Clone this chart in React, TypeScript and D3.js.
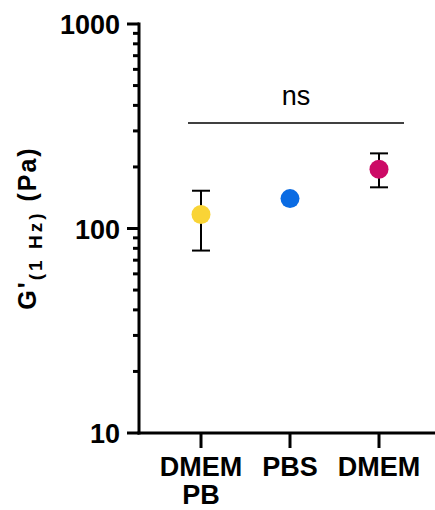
import React, { useEffect, useRef } from "react";
import * as d3 from "d3";

const categories = ["DMEM PB", "PBS", "DMEM"];
const means = [117, 140, 195];
const errLow = [78, null, 159];
const errHigh = [153, null, 233];
const colors = ["#F9D436", "#0A6BE3", "#CC0A66"];
const yTicks = [10, 100, 1000];

const W = 435;
const H = 510;

export default function App() {
  const ref = useRef<SVGSVGElement>(null);

  useEffect(() => {
    const svg = d3.select(ref.current);
    svg.selectAll("*").remove();

    const left = 139;
    const right = 435;
    const top = 24;
    const bottom = 433;

    const y = d3.scaleLog().domain([10, 1000]).range([bottom, top]);
    const x = d3.scalePoint<string>().domain(categories).range([201, 379]);

    const font = "Arial, 'Liberation Sans', sans-serif";

    // minor ticks
    const minor: number[] = [];
    for (const dec of [10, 100]) {
      for (let k = 2; k <= 9; k++) minor.push(dec * k);
    }
    svg.append("g")
      .selectAll("line")
      .data(minor)
      .join("line")
      .attr("x1", left - 6)
      .attr("x2", left)
      .attr("y1", (d) => y(d))
      .attr("y2", (d) => y(d))
      .attr("stroke", "black")
      .attr("stroke-width", 3);

    svg.append("g")
      .selectAll("line")
      .data(yTicks)
      .join("line")
      .attr("x1", left - 12)
      .attr("x2", left)
      .attr("y1", (d) => y(d))
      .attr("y2", (d) => y(d))
      .attr("stroke", "black")
      .attr("stroke-width", 3);

    svg.append("g")
      .selectAll("text")
      .data(yTicks)
      .join("text")
      .attr("x", left - 19)
      .attr("y", (d) => y(d))
      .attr("dy", "0.38em")
      .attr("text-anchor", "end")
      .attr("font-family", font)
      .attr("font-weight", "bold")
      .attr("font-size", 27)
      .text((d) => String(d));

    // axes lines
    svg.append("line")
      .attr("x1", left).attr("x2", left)
      .attr("y1", top - 1.5).attr("y2", bottom + 1.5)
      .attr("stroke", "black").attr("stroke-width", 3);
    svg.append("line")
      .attr("x1", left - 1.5).attr("x2", right)
      .attr("y1", bottom).attr("y2", bottom)
      .attr("stroke", "black").attr("stroke-width", 3);

    // x ticks
    svg.append("g")
      .selectAll("line")
      .data(categories)
      .join("line")
      .attr("x1", (d) => x(d)!)
      .attr("x2", (d) => x(d)!)
      .attr("y1", bottom)
      .attr("y2", bottom + 15)
      .attr("stroke", "black")
      .attr("stroke-width", 3);

    const xl = svg.append("g")
      .selectAll("text")
      .data(categories)
      .join("text")
      .attr("x", (d) => x(d)!)
      .attr("y", 476)
      .attr("text-anchor", "middle")
      .attr("font-family", font)
      .attr("font-weight", "bold")
      .attr("font-size", 27);
    xl.each(function (d) {
      const parts = d.split(" ");
      const t = d3.select(this);
      parts.forEach((p, i) => {
        t.append("tspan")
          .attr("x", x(d)!)
          .attr("dy", i === 0 ? 0 : 28)
          .text(p);
      });
    });

    // error bars
    const cap = 9;
    const eb = svg.append("g");
    categories.forEach((c, i) => {
      const lo = errLow[i];
      const hi = errHigh[i];
      if (lo == null || hi == null) return;
      const cx = x(c)!;
      eb.append("line")
        .attr("x1", cx).attr("x2", cx)
        .attr("y1", y(lo)).attr("y2", y(hi))
        .attr("stroke", "black").attr("stroke-width", 2);
      [lo, hi].forEach((v) => {
        eb.append("line")
          .attr("x1", cx - cap).attr("x2", cx + cap)
          .attr("y1", y(v)).attr("y2", y(v))
          .attr("stroke", "black").attr("stroke-width", 2);
      });
    });

    svg.append("g")
      .selectAll("circle")
      .data(means)
      .join("circle")
      .attr("cx", (_, i) => x(categories[i])!)
      .attr("cy", (d) => y(d))
      .attr("r", 9.5)
      .attr("fill", (_, i) => colors[i]);

    // significance bar
    svg.append("line")
      .attr("x1", 188).attr("x2", 404)
      .attr("y1", 123).attr("y2", 123)
      .attr("stroke", "black").attr("stroke-width", 1.5);
    svg.append("text")
      .attr("x", 296)
      .attr("y", 105)
      .attr("text-anchor", "middle")
      .attr("font-family", font)
      .attr("font-size", 27)
      .text("ns");

    // y label
    const yl = svg.append("text")
      .attr("transform", `translate(36,${228}) rotate(-90)`)
      .attr("text-anchor", "middle")
      .attr("font-family", font)
      .attr("font-weight", "bold")
      .attr("font-size", 25)
      .attr("letter-spacing", 2);
    yl.append("tspan").text("G'");
    yl.append("tspan").attr("font-size", 19).attr("letter-spacing", 3).attr("dy", 6).text("(1 Hz)");
    yl.append("tspan").attr("dy", -6).text(" (Pa)");
  }, []);

  return (
    <svg
      ref={ref}
      width={W}
      height={H}
      style={{ position: "absolute", left: 0, top: 0, background: "white" }}
    />
  );
}
